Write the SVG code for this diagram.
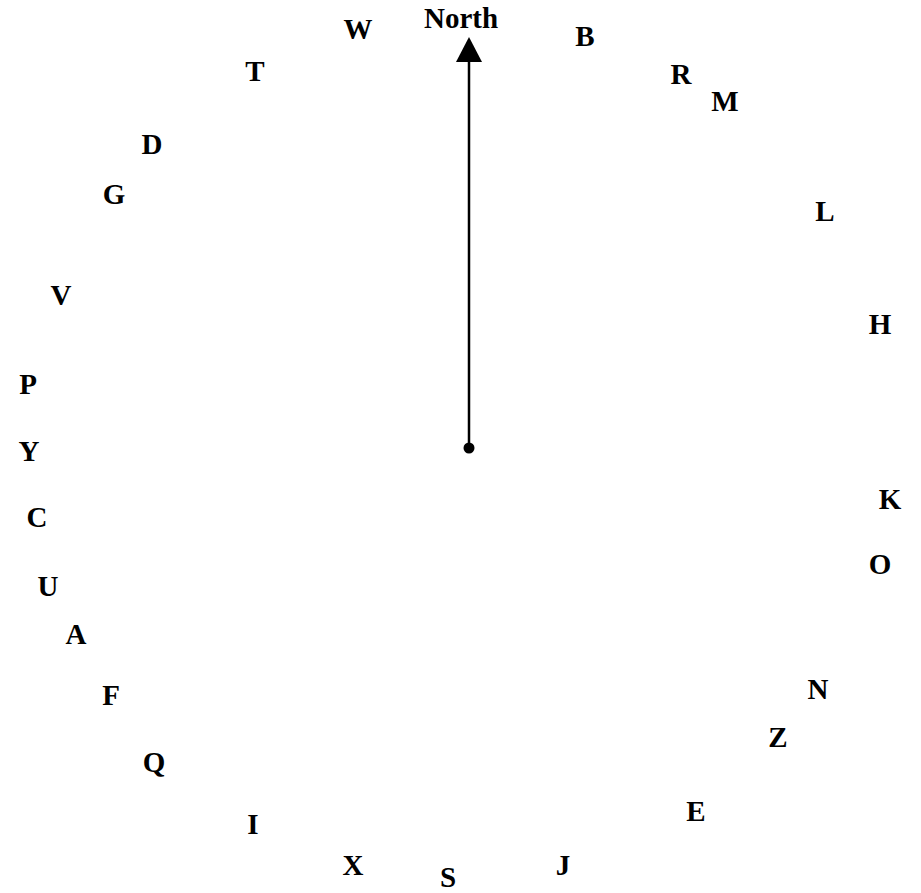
<svg xmlns="http://www.w3.org/2000/svg" width="921" height="893" viewBox="0 0 921 893">
<style>
text{font-family:"Liberation Serif","Times New Roman",serif;font-weight:bold;font-size:29px;fill:#000;text-anchor:middle}
</style>
<rect width="921" height="893" fill="#fff"/>
<g id="connectors">
<line x1="469" y1="448" x2="469" y2="62" stroke="#000" stroke-width="2.5"/>
<path d="M469,37 L482,62 L456,62 Z" fill="#000"/>
<circle cx="469" cy="448" r="5.5" fill="#000"/>
</g>
<g id="north"><text x="461" y="28">North</text></g>
<g id="W"><text x="358" y="39">W</text></g>
<g id="B"><text x="585" y="46">B</text></g>
<g id="T"><text x="255" y="81">T</text></g>
<g id="R"><text x="681" y="84">R</text></g>
<g id="M"><text x="725" y="111">M</text></g>
<g id="D"><text x="152" y="154">D</text></g>
<g id="G"><text x="114" y="204">G</text></g>
<g id="L"><text x="825" y="221">L</text></g>
<g id="V"><text x="61" y="305">V</text></g>
<g id="H"><text x="880" y="334">H</text></g>
<g id="P"><text x="28" y="394">P</text></g>
<g id="Y"><text x="29" y="461">Y</text></g>
<g id="K"><text x="890" y="509">K</text></g>
<g id="C"><text x="37" y="527">C</text></g>
<g id="O"><text x="880" y="574">O</text></g>
<g id="U"><text x="48" y="596">U</text></g>
<g id="A"><text x="76" y="644">A</text></g>
<g id="N"><text x="818" y="699">N</text></g>
<g id="F"><text x="111" y="705">F</text></g>
<g id="Z"><text x="778" y="747">Z</text></g>
<g id="Q"><text x="154" y="772">Q</text></g>
<g id="E"><text x="696" y="821">E</text></g>
<g id="I"><text x="253" y="834">I</text></g>
<g id="X"><text x="353" y="875">X</text></g>
<g id="S"><text x="448" y="887">S</text></g>
<g id="J"><text x="563" y="875">J</text></g>
</svg>
